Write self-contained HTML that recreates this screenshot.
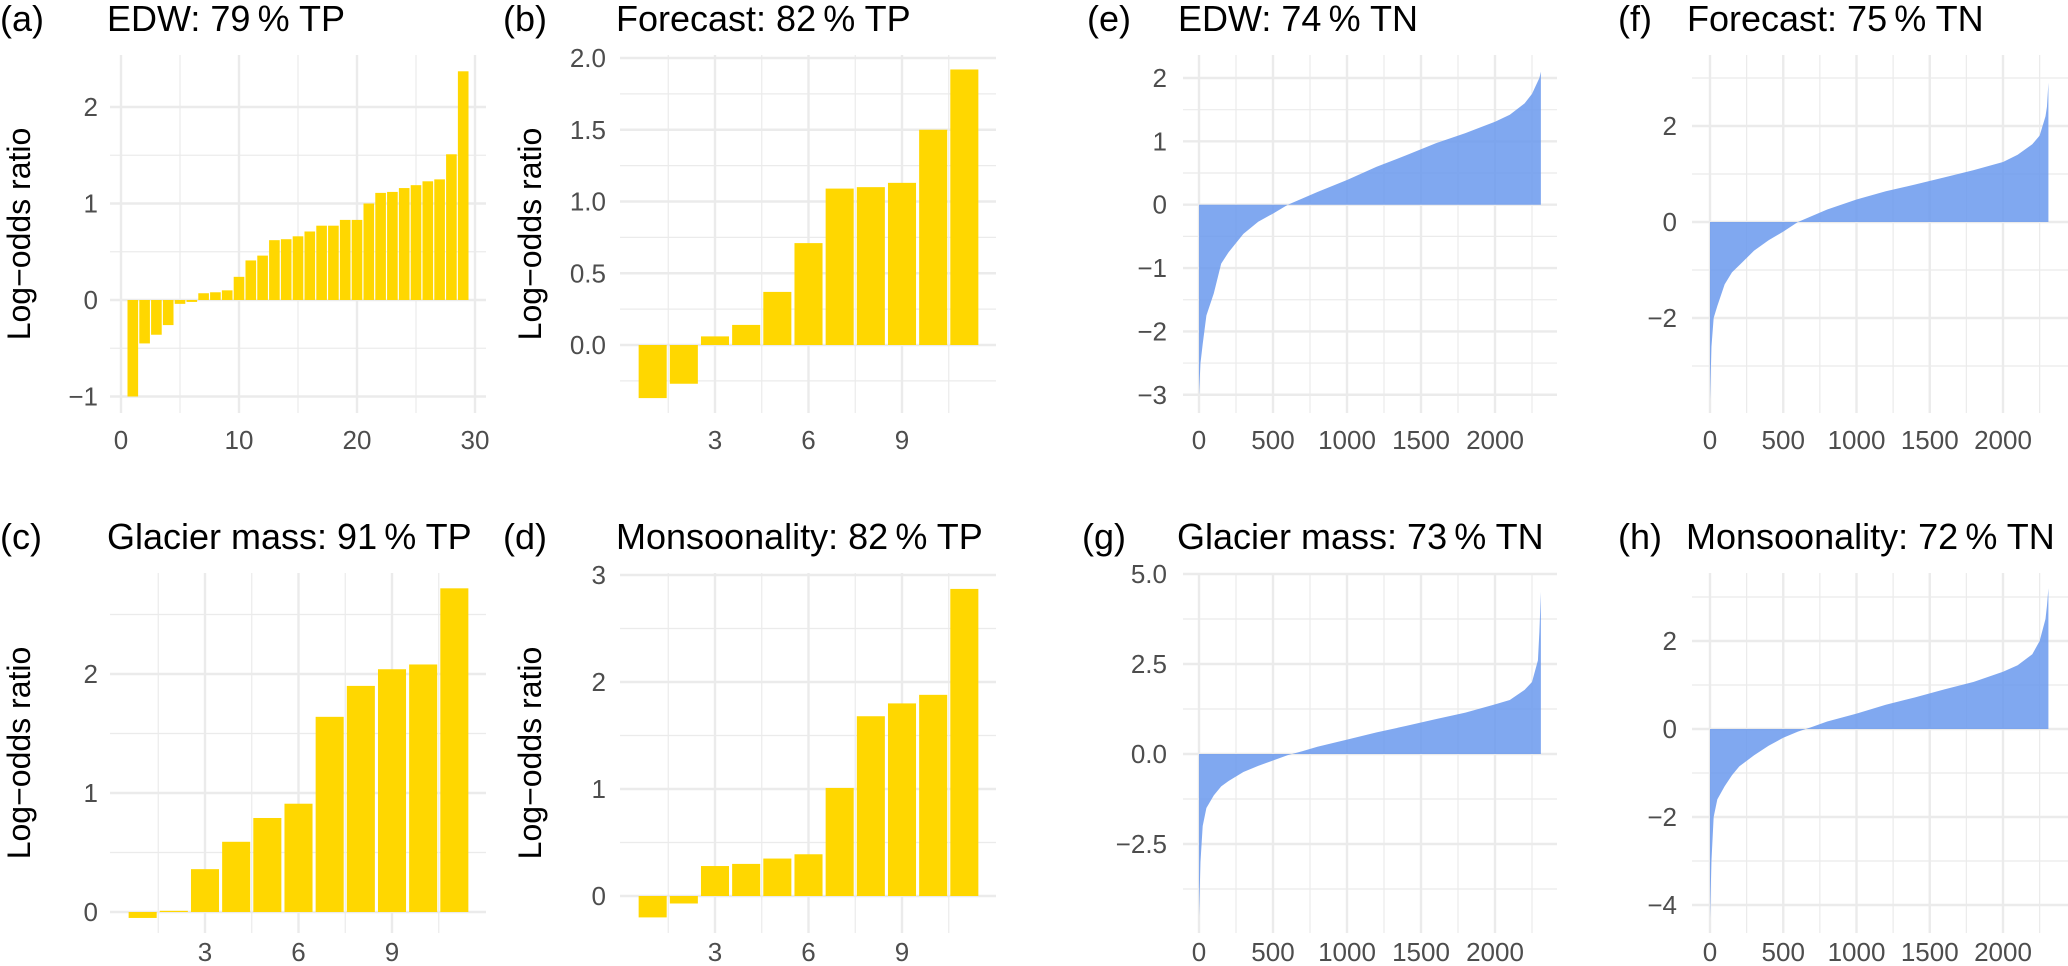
<!DOCTYPE html>
<html><head><meta charset="utf-8">
<style>
html,body{margin:0;padding:0;background:#fff;}
svg{display:block;font-family:"Liberation Sans",Arial,sans-serif;}
</style></head>
<body>
<svg id="fig" width="2068" height="966" viewBox="0 0 2068 966"></svg>
<script>
// ---- data ----
const aValues=[-1.0,-0.45,-0.36,-0.26,-0.04,-0.02,0.07,0.08,0.10,0.24,0.41,0.46,0.62,0.63,0.66,0.71,0.77,0.77,0.83,0.83,1.0,1.11,1.12,1.16,1.19,1.23,1.25,1.51,2.37];
const bValues=[-0.37,-0.27,0.06,0.14,0.37,0.71,1.09,1.10,1.13,1.50,1.92];
const cValues=[-0.05,0.01,0.36,0.59,0.79,0.91,1.64,1.90,2.04,2.08,2.72];
const dValues=[-0.20,-0.07,0.28,0.30,0.35,0.39,1.01,1.68,1.80,1.88,2.87];
const ranks=[0,10,25,50,100,150,200,300,400,500,600,700,800,1000,1200,1400,1600,1800,2000,2100,2200,2250,2290,2300,2310];
const eValues=[-3.0,-2.5,-2.2,-1.75,-1.4,-0.93,-0.75,-0.46,-0.27,-0.14,0.0,0.1,0.2,0.39,0.6,0.78,0.97,1.13,1.31,1.42,1.6,1.75,1.95,2.0,2.1];
const fValues=[-3.7,-2.6,-2.0,-1.75,-1.3,-1.05,-0.9,-0.6,-0.38,-0.2,0.0,0.13,0.26,0.47,0.64,0.78,0.93,1.08,1.25,1.4,1.62,1.8,2.2,2.4,2.9];
const gValues=[-4.5,-3.0,-2.0,-1.5,-1.15,-0.9,-0.75,-0.5,-0.33,-0.18,-0.03,0.08,0.2,0.4,0.6,0.78,0.97,1.15,1.38,1.5,1.78,2.0,2.6,3.4,4.5];
const hValues=[-4.3,-3.0,-2.0,-1.6,-1.3,-1.05,-0.85,-0.6,-0.38,-0.2,-0.06,0.05,0.17,0.35,0.55,0.72,0.9,1.07,1.3,1.45,1.7,2.0,2.5,2.8,3.2];
const rankTicks=[0,500,1000,1500,2000];
const rankMinor=[250,750,1250,1750,2250];

const NS="http://www.w3.org/2000/svg";
const svg=document.getElementById('fig');
function mk(tag,attrs,parent){const e=document.createElementNS(NS,tag);for(const k in attrs)e.setAttribute(k,attrs[k]);(parent||svg).appendChild(e);return e;}
function lin(v0,p0,v1,p1){return v=>p0+(v-v0)*(p1-p0)/(v1-v0);}

function panel(p){
  const g=mk('g',{});
  
  
  const X=lin(...p.xmap), Y=lin(...p.ymap);
  p.yMinor.forEach(v=>{const l=mk('line',{x1:p.x0,x2:p.x1,y1:Y(v),y2:Y(v),stroke:'#ebebeb','stroke-width':1.2},g);
    });
  p.xMinor.forEach(v=>{const l=mk('line',{x1:X(v),x2:X(v),y1:p.y0,y2:p.y1,stroke:'#ebebeb','stroke-width':1.2},g);
    });
  p.yMajor.forEach(v=>{const l=mk('line',{x1:p.x0,x2:p.x1,y1:Y(v),y2:Y(v),stroke:'#ebebeb','stroke-width':2.4},g);
    });
  p.xMajor.forEach(v=>{const l=mk('line',{x1:X(v),x2:X(v),y1:p.y0,y2:p.y1,stroke:'#ebebeb','stroke-width':2.4},g);
    });
  if(p.bars){
    p.bars.forEach((v,i)=>{const x=i+1;const a=X(x-0.45),b=X(x+0.45);
      const r=mk('rect',{x:a,width:b-a,y:Math.min(Y(v),Y(0)),height:Math.abs(Y(v)-Y(0)),fill:'#FFD700'},g);
      });
  } else {
    let d='M'+X(p.ranks[0])+','+Y(0);
    p.ranks.forEach((r,i)=>{d+=' L'+X(r).toFixed(2)+','+Y(p.vals[i]).toFixed(2);});
    d+=' L'+X(p.ranks[p.ranks.length-1])+','+Y(0)+' Z';
    const a=mk('path',{d:d,fill:'#6495ED','fill-opacity':0.82},g);
    
  }
  p.yMajor.forEach((v,i)=>{const t=mk('text',{x:p.ylx,y:Y(v)+9,'text-anchor':'end','font-size':26,fill:'#4d4d4d'},g);
    t.textContent=p.yLabels[i];});
  p.xMajor.forEach((v,i)=>{const t=mk('text',{x:X(v),y:p.xly,'text-anchor':'middle','font-size':26,fill:'#4d4d4d'},g);
    t.textContent=p.xLabels[i];});
  const tg=mk('text',{x:p.tagx,y:p.ty,'font-size':36,fill:'#000'},g);tg.textContent=p.tag;
  
  const tt=mk('text',{x:p.tx,y:p.ty,'font-size':36,fill:'#000'},g);tt.textContent=p.title;
  
  if(p.ytitle){const cy=(p.y0+p.y1)/2;
    const yt=mk('text',{x:p.ytx,y:cy,'font-size':32,fill:'#000','text-anchor':'middle',transform:'rotate(-90 '+p.ytx+' '+cy+')'},g);
    yt.textContent='Log\u2212odds ratio';}
}
const top0=55,top1=413,bot0=573,bot1=933;
panel({name:'panel-a',x0:110,x1:486,y0:top0,y1:top1,xmap:[0,121,30,475],ymap:[0,300,2,107],
  xMajor:[0,10,20,30],xMinor:[5,15,25],xLabels:['0','10','20','30'],
  yMajor:[-1,0,1,2],yMinor:[-0.5,0.5,1.5],yLabels:['\u22121','0','1','2'],
  bars:aValues,ylx:98,xly:449,tag:'(a)',tagx:0,tx:107,title:'EDW: 79\u2009% TP',ty:31,ytitle:true,ytx:30});
panel({name:'panel-b',x0:620,x1:996,y0:top0,y1:top1,xmap:[3,715,9,902],ymap:[0,345,2,58],
  xMajor:[3,6,9],xMinor:[1.5,4.5,7.5,10.5],xLabels:['3','6','9'],
  yMajor:[0,0.5,1,1.5,2],yMinor:[-0.25,0.25,0.75,1.25,1.75],yLabels:['0.0','0.5','1.0','1.5','2.0'],
  bars:bValues,ylx:606,xly:449,tag:'(b)',tagx:503,tx:616,title:'Forecast: 82\u2009% TP',ty:31,ytitle:true,ytx:541});
panel({name:'panel-c',x0:110,x1:486,y0:bot0,y1:bot1,xmap:[3,205,9,392],ymap:[0,912,2,674],
  xMajor:[3,6,9],xMinor:[1.5,4.5,7.5,10.5],xLabels:['3','6','9'],
  yMajor:[0,1,2],yMinor:[0.5,1.5,2.5],yLabels:['0','1','2'],
  bars:cValues,ylx:98,xly:961,tag:'(c)',tagx:0,tx:107,title:'Glacier mass: 91\u2009% TP',ty:549,ytitle:true,ytx:30});
panel({name:'panel-d',x0:620,x1:996,y0:bot0,y1:bot1,xmap:[3,715,9,902],ymap:[0,896,3,575],
  xMajor:[3,6,9],xMinor:[1.5,4.5,7.5,10.5],xLabels:['3','6','9'],
  yMajor:[0,1,2,3],yMinor:[0.5,1.5,2.5],yLabels:['0','1','2','3'],
  bars:dValues,ylx:606,xly:961,tag:'(d)',tagx:503,tx:616,title:'Monsoonality: 82\u2009% TP',ty:549,ytitle:true,ytx:541});
panel({name:'panel-e',x0:1183,x1:1557,y0:top0,y1:top1,xmap:[0,1199,2000,1495],ymap:[0,204.7,2,78],
  xMajor:rankTicks,xMinor:rankMinor,xLabels:['0','500','1000','1500','2000'],
  yMajor:[-3,-2,-1,0,1,2],yMinor:[-2.5,-1.5,-0.5,0.5,1.5],yLabels:['\u22123','\u22122','\u22121','0','1','2'],
  ranks:ranks,vals:eValues,ylx:1167,xly:449,tag:'(e)',tagx:1087,tx:1178,title:'EDW: 74\u2009% TN',ty:31});
panel({name:'panel-f',x0:1692,x1:2068,y0:top0,y1:top1,xmap:[0,1710,2000,2003],ymap:[0,222,2,126],
  xMajor:rankTicks,xMinor:rankMinor,xLabels:['0','500','1000','1500','2000'],
  yMajor:[-2,0,2],yMinor:[-3,-1,1,3],yLabels:['\u22122','0','2'],
  ranks:ranks,vals:fValues,ylx:1677,xly:449,tag:'(f)',tagx:1618,tx:1687,title:'Forecast: 75\u2009% TN',ty:31});
panel({name:'panel-g',x0:1183,x1:1557,y0:bot0,y1:bot1,xmap:[0,1199,2000,1495],ymap:[0,754,5,574],
  xMajor:rankTicks,xMinor:rankMinor,xLabels:['0','500','1000','1500','2000'],
  yMajor:[-2.5,0,2.5,5],yMinor:[-3.75,-1.25,1.25,3.75],yLabels:['\u22122.5','0.0','2.5','5.0'],
  ranks:ranks,vals:gValues,ylx:1167,xly:961,tag:'(g)',tagx:1082,tx:1177,title:'Glacier mass: 73\u2009% TN',ty:549});
panel({name:'panel-h',x0:1692,x1:2068,y0:bot0,y1:bot1,xmap:[0,1710,2000,2003],ymap:[0,729,2,641],
  xMajor:rankTicks,xMinor:rankMinor,xLabels:['0','500','1000','1500','2000'],
  yMajor:[-4,-2,0,2],yMinor:[-3,-1,1,3],yLabels:['\u22124','\u22122','0','2'],
  ranks:ranks,vals:hValues,ylx:1677,xly:961,tag:'(h)',tagx:1618,tx:1686,title:'Monsoonality: 72\u2009% TN',ty:549});
</script>
</body></html>
